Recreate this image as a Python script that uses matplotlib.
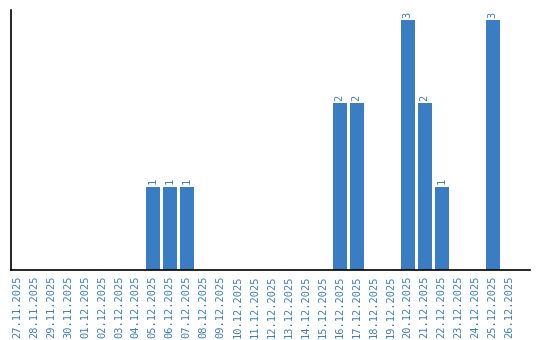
import matplotlib
matplotlib.use("Agg")
import matplotlib.pyplot as plt

# days from 27.11.2025 to 26.12.2025
dates = ["27.11.2025", "28.11.2025", "29.11.2025", "30.11.2025",
         "01.12.2025", "02.12.2025", "03.12.2025", "04.12.2025",
         "05.12.2025", "06.12.2025", "07.12.2025", "08.12.2025",
         "09.12.2025", "10.12.2025", "11.12.2025", "12.12.2025",
         "13.12.2025", "14.12.2025", "15.12.2025", "16.12.2025",
         "17.12.2025", "18.12.2025", "19.12.2025", "20.12.2025",
         "21.12.2025", "22.12.2025", "23.12.2025", "24.12.2025",
         "25.12.2025", "26.12.2025"]
counts = [0, 0, 0, 0, 0, 0, 0, 0, 1, 1, 1, 0, 0, 0, 0, 0, 0, 0, 0,
          2, 2, 0, 0, 3, 2, 1, 0, 0, 3, 0]

blue = "#3a7dc2"
plt.rcParams["font.family"] = "DejaVu Sans Mono"

fig = plt.figure(figsize=(5.4, 3.4), dpi=100)
ax = fig.add_axes([11 / 540, 70 / 340, 519 / 540, 260 / 340])

x = list(range(len(dates)))
ax.bar(x, counts, width=0.82, color=blue)

# value labels above non-empty bars
for i, v in enumerate(counts):
    if v > 0:
        ax.text(i, v + 0.03, str(v), rotation=90, ha="center", va="bottom",
                color=blue, fontsize=7.5)

ax.set_xlim(-0.35, 30.2)
ax.set_ylim(0, 3.12)
ax.set_xticks(x)
ax.set_xticklabels(dates, rotation=90, color=blue, fontsize=7.5)
ax.tick_params(axis="x", length=0, pad=4)
ax.set_yticks([])
ax.spines["top"].set_visible(False)
ax.spines["right"].set_visible(False)
ax.spines["left"].set_linewidth(1.2)
ax.spines["bottom"].set_linewidth(1.2)

fig.savefig("out.png", dpi=100)
